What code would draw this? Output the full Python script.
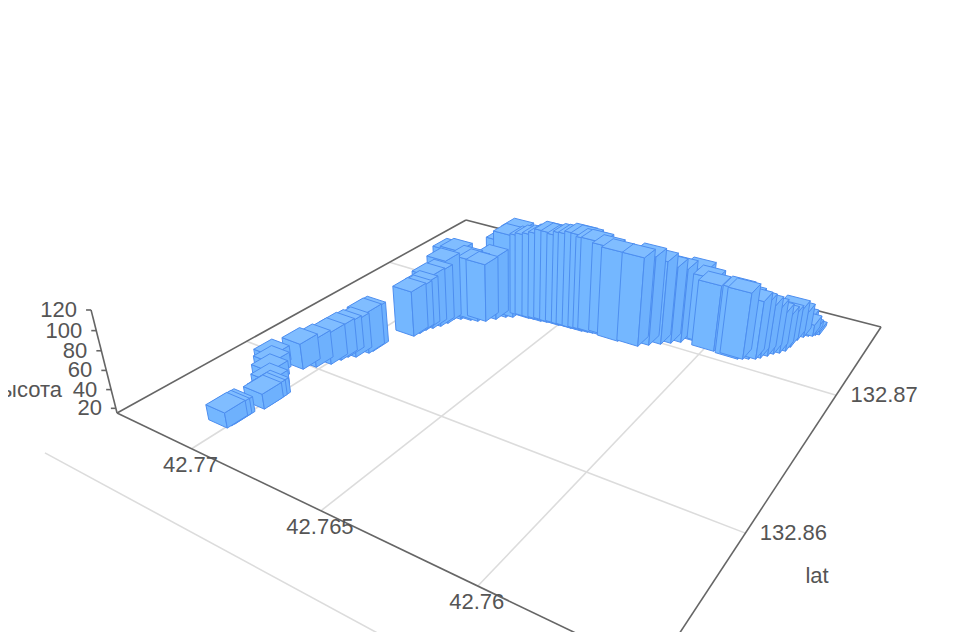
import numpy as np, altair as alt

# Bars: lat = 42.76 + LAT_OFF * 1e-5, lon = 132.85 + LON_OFF * 1e-5, height in metres
LAT_OFF = [1033,1031,1030,1015,1016,1017,1055,1097,1127,1158,1081,1054,1026,1016,1010,988,969,966,915,910,906,894,880,872,872,851,817,792,768,746,725,704,688,652,633,604,582,561,535,514,489,471,446,425,407,389,381,350,308,235,207,176,150,124,73,39,6,-81,-95,-112,-131,-142,-157,-169,-184,-196,-201,-205,-216,-228,-240,-246,-256]
LON_OFF = [535,555,570,707,730,750,795,850,899,940,1015,1058,1111,1160,1196,1215,1272,1295,1499,1535,1573,1605,1640,1681,1728,1746,1763,1773,1793,1835,1877,1895,1932,1927,1932,1933,1940,1947,1945,1952,1951,1955,1954,1960,1965,1969,1998,1980,1962,1970,2005,2042,2075,2107,2151,2159,2113,2106,2117,2132,2148,2168,2201,2232,2255,2286,2332,2410,2451,2473,2483,2499,2512]
HEIGHT = [31,31,31,31,31,31,30,30,31,31,43,45,49,51,51,54,60,60,66,66,68,75,77,87,94,94,87,84,81,87,102,109,113,107,109,111,113,117,117,115,119,119,122,121,118,118,111,114,114,113,113,107,100,97,95,88,88,90,88,83,79,76,71,66,60,55,52,50,43,35,28,22,19]

LAT_TICKS = [42.77, 42.765, 42.76]
LON_GRID = [132.85, 132.86, 132.87]
LON_LABELS = [132.86, 132.87]
Z_TICKS = [20, 40, 60, 80, 100, 120]
Z_MIN = 15
LAT_RANGE = (42.77334, 42.7554)   # back to front
LON_RANGE = (132.85316, 132.87688)
BAR_LAT = 0.0008
BAR_LON = 0.00105

# camera: homogeneous map (u, v, z, 1) -> page pixels
LAM = -0.000589
CAM = np.array([
    [-96.29255, 238.3678, LAM * 514, 441.43176],
    [-16.51881, -39.18209, LAM * 1985, 416.23776],
    [0.08321, 0.19392, LAM, 1.0],
])

def uv(lat, lon):
    return (lat - 42.765) / 0.005, (lon - 132.86) / 0.01

def proj(lat, lon, z=Z_MIN):
    u, v = uv(lat, lon)
    q = CAM @ np.array([u, v, z - Z_MIN, 1.0])
    return [float(q[0] / q[2] - 8), float(q[1] / q[2] - 8)]

feats = []
def poly(pts, fill, stroke):
    feats.append({"type": "Feature", "geometry": {"type": "Polygon", "coordinates": [pts + [pts[0]]]},
                  "properties": {"f": fill, "s": stroke, "w": 1}})
def line(a, b, c, w=1.6):
    feats.append({"type": "Feature", "geometry": {"type": "LineString", "coordinates": [a, b]},
                  "properties": {"f": "none", "s": c, "w": w}})

GRID = "#dcdcdc"
AXIS = "#666666"
LA1, LA0 = LAT_RANGE
LO0, LO1 = LON_RANGE
for la in LAT_TICKS:
    line(proj(la, LO0), proj(la, LO1), GRID)
for lo in LON_GRID:
    line(proj(LA1, lo), proj(LA0, lo), GRID)
line(proj(LA1, LO0), proj(LA1, LO1), AXIS)
line(proj(LA1, LO1), proj(LA0, LO1), AXIS)
line(proj(LA0, LO1), proj(LA0, LO0), AXIS)
line(proj(LA0, LO0), proj(LA1, LO0), AXIS)
line(proj(LA1, LO0), proj(LA1, LO0, 120), AXIS)

right_texts, center_texts = [], []
for z in Z_TICKS:
    a = proj(LA1, LO0, z)
    line(a, [a[0] - 5, a[1]], AXIS)
    right_texts.append({"x": a[0] - 14, "y": a[1], "t": str(z)})
right_texts.append({"x": 54, "y": 382, "t": "высота"})
for la in LAT_TICKS:
    a = proj(la, LO0)
    center_texts.append({"x": a[0] - 1, "y": a[1] + 16, "t": str(la)})
for lo in LON_LABELS:
    a = proj(LA0, lo)
    center_texts.append({"x": a[0] + 48, "y": a[1], "t": str(lo)})
center_texts.append({"x": 809, "y": 568, "t": "lat"})

bars = [(42.76 + a * 1e-5, 132.85 + b * 1e-5, h) for a, b, h in zip(LAT_OFF, LON_OFF, HEIGHT)]
def depth(b):
    u, v = uv(b[0], b[1])
    return abs(CAM[2] @ np.array([u, v, 0, 1.0]))

STROKE = "#4d8ef0"
for lat, lon, h in sorted(bars, key=lambda b: -depth(b)):
    a0, a1 = lat - BAR_LAT / 2, lat + BAR_LAT / 2
    o0, o1 = lon - BAR_LON / 2, lon + BAR_LON / 2
    poly([proj(a1, o0), proj(a0, o0), proj(a0, o0, h), proj(a1, o0, h)], "#74b7ff", STROKE)
    poly([proj(a0, o0), proj(a0, o1), proj(a0, o1, h), proj(a0, o0, h)], "#6eb1fd", STROKE)
    poly([proj(a0, o0, h), proj(a0, o1, h), proj(a1, o1, h), proj(a1, o0, h)], "#80bdff", STROKE)

shapes = alt.Chart(alt.Data(values=feats)).mark_geoshape().encode(
    fill=alt.Fill("properties.f:N", scale=None),
    stroke=alt.Stroke("properties.s:N", scale=None),
    strokeWidth=alt.StrokeWidth("properties.w:Q", scale=None),
).project(type="identity", scale=1, translate=[0, 0])

def text_layer(rows, align):
    return alt.Chart(alt.Data(values=rows)).mark_text(
        align=align, baseline="middle", font="Liberation Sans", fontSize=22, color="#555555"
    ).encode(x=alt.X("x:Q", scale=None, axis=None), y=alt.Y("y:Q", scale=None, axis=None), text="t:N")

chart = alt.layer(shapes, text_layer(right_texts, "right"), text_layer(center_texts, "center")).properties(
    width=944, height=624, padding=0, autosize=alt.AutoSizeParams(type="none")
).configure_view(stroke=None)
chart.save("out.html", embed_options={"renderer": "svg", "actions": False})
